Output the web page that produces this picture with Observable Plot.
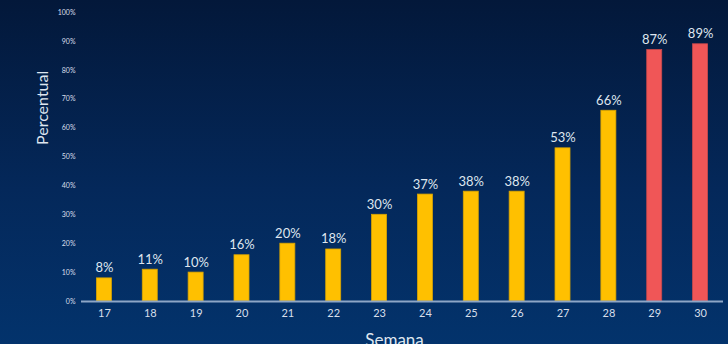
<!DOCTYPE html>
<html><head><meta charset="utf-8">
<script src="https://cdn.jsdelivr.net/npm/d3@7"></script>
<script src="https://cdn.jsdelivr.net/npm/@observablehq/plot@0.6"></script>
<style>
html,body{margin:0;padding:0;width:728px;height:344px;overflow:hidden;}
body{background:linear-gradient(to bottom,#03183a 0%,#04285a 55%,#03336c 100%);}
svg{display:block;}
</style></head>
<body>
<div id="chart"></div>
<script>
const weeks = ["17","18","19","20","21","22","23","24","25","26","27","28","29","30"];
const values = [0.08,0.11,0.10,0.16,0.20,0.18,0.30,0.37,0.38,0.38,0.53,0.66,0.87,0.89];
const highlight = ["29","30"];
const yTicks = [0,0.1,0.2,0.3,0.4,0.5,0.6,0.7,0.8,0.9,1.0];

const data = weeks.map((w,i)=>({week:w, value:values[i], hi: highlight.includes(w)}));
const font = "Lato, 'DejaVu Sans', sans-serif";

const chart = Plot.plot({
  width: 728, height: 344,
  marginLeft: 81, marginRight: 5, marginTop: 12, marginBottom: 43,
  style: {background: "transparent", fontFamily: font, color: "#d7dfea"},
  x: {domain: weeks, paddingInner: 0.673, paddingOuter: 0.336, round: false, label: null},
  y: {domain: [0,1], label: null},
  marks: [
    Plot.axisY({ticks: yTicks, tickFormat: d=>Math.round(d*100)+"%", tickSize: 0, tickPadding: 6, fontSize: 7, fill: "#d7dfea", label: null}),
    Plot.axisX({tickSize: 0, tickPadding: 8, fontSize: 11, fill: "#d7dfea", label: null}),
    Plot.barY(data, {x: "week", y: "value", fill: d=>d.hi ? "#f05657" : "#ffc000", stroke: d=>d.hi ? "#c94a4c" : "#d9a400", strokeWidth: 0.8}),
    Plot.ruleY([0], {stroke: "#8ea6c6", strokeWidth: 2}),
    Plot.text(data, {x: "week", y: "value", text: d=>Math.round(d.value*100)+"%", lineAnchor: "bottom", dy: -6, fontSize: 13, fill: "#dfe6ef"}),
    Plot.text(["Semana"], {frameAnchor: "bottom", dx: -8, dy: 39, lineAnchor: "middle", fontSize: 17, fill: "#dfe6ef"}),
    Plot.text(["Percentual"], {frameAnchor: "left", dx: -39, dy: -12, rotate: -90, fontSize: 16, fill: "#dfe6ef"})
  ]
});
document.getElementById("chart").appendChild(chart);
</script>
</body></html>
